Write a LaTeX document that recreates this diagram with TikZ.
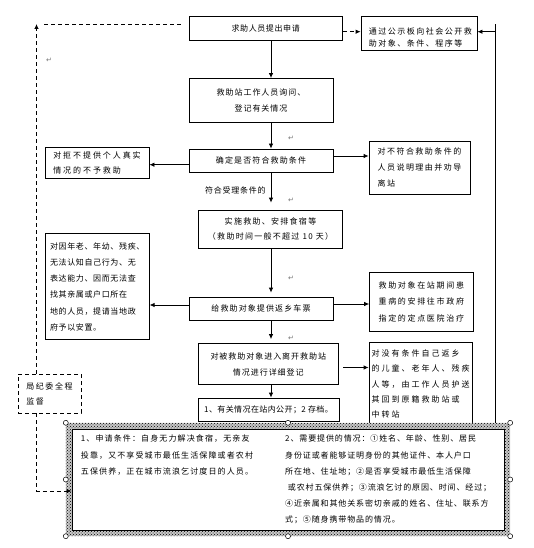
\documentclass[tikz,border=0pt]{standalone}
\usepackage{fontspec}
\setmainfont{Noto Sans CJK SC}
\newfontfamily\markfont{DejaVu Sans}
\usetikzlibrary{arrows.meta,calc,patterns}

\begin{document}
\begin{tikzpicture}[
  x=1pt,y=-1pt,
  font={\fontsize{8}{15.5}\selectfont},
  track/.style 2 args={font={\fontsize{8}{#2}\selectfont\addfontfeatures{LetterSpace=#1}}},
  box/.style={draw=black,line width=0.8pt,inner sep=0pt,align=center},
  side/.style={box,align=left},
  dbox/.style={box,align=left,dash pattern=on 4pt off 3pt},
  ar/.style={-{Latex[length=5pt,width=4.5pt]},line width=0.8pt},
  dar/.style={ar,dash pattern=on 4pt off 3pt},
  dline/.style={line width=0.8pt,dash pattern=on 4pt off 3pt},
  para/.style={font=\markfont\fontsize{7}{7}\selectfont,text=black!55,inner sep=0pt},
  handle/.style={circle,draw=black,fill=white,line width=0.5pt,inner sep=0pt,minimum size=5pt},
]
\useasboundingbox (0,0) rectangle (534,548);
\node[box,track={7.5}{15.5},minimum width=153.5,minimum height=24] (ask) at (265.7,28.3) {求助人员提出申请};
\node[box,minimum width=116,minimum height=34] (pub) at (419,33) {};
\node[track={19}{12.3},align=left,inner sep=0pt,anchor=west] (pubtxt) at (368.6,37.8) {通过公示板向社会公开救\\助对象、条件、程序等};
\node[box,track={12}{15.5},minimum width=144,minimum height=44.3] (inquire) at (261,100.6) {救助站工作人员询问、\\登记有关情况};
\node[box,track={14}{15.5},minimum width=144,minimum height=23] (check) at (261,160.5) {确定是否符合救助条件};
\node[side,track={24}{15},minimum width=104,minimum height=31] (refuse) at (97,162.5) {对拒不提供个人真实\\情况的不予救助};
\node[side,track={18}{16},minimum width=101,minimum height=53] (unfit) at (419.5,167.5) {对不符合救助条件的\\人员说明理由并劝导\\离站};
\node[track={9}{15.5},anchor=west,inner sep=0pt] (ok) at (205,190) {符合受理条件的};
\node[box,track={16}{14.2},minimum width=144,minimum height=38] (aid) at (270.5,229) {实施救助、安排食宿等\\（救助时间一般不超过 10 天）};
\node[side,track={8}{16.2},minimum width=104,minimum height=106] (settle) at (97.2,286.7) {对因年老、年幼、残疾、\\无法认知自己行为、无\\表达能力、因而无法查\\找其亲属或户口所在\\地的人员，提请当地政\\府予以安置。};
\node[box,track={14}{15.5},minimum width=144,minimum height=23] (ticket) at (261,308.5) {给救助对象提供返乡车票};
\node[side,track={21}{16.5},minimum width=103.4,minimum height=58.4] (sick) at (421.3,301.8) {救助对象在站期间患\\重病的安排往市政府\\指定的定点医院治疗};
\node[box,track={12}{16},minimum width=139.4,minimum height=41] (record) at (268.3,364) {对被救助对象进入离开救助站\\情况进行详细登记};
\node[box,track={5}{15.5},minimum width=141,minimum height=23] (archive) at (268.5,409.5) {1、有关情况在站内公开；2 存档。};
\node[side,track={25}{15.3},minimum width=103,minimum height=84] (escort) at (420.5,384) {对没有条件自己返乡\\的儿童、老年人、残疾\\人等，由工作人员护送\\其回到原籍救助站或\\中转站};
\node[dbox,track={20}{15},minimum width=63,minimum height=39] (watch) at (49.5,393.5) {局纪委全程\\监督};
\node[inner sep=0pt,minimum width=444,minimum height=113] (frame) at (288,479.5) {};
\fill[black!22,even odd rule] (frame.north west) rectangle (frame.south east) (72,429) rectangle (504,530);
\fill[pattern=crosshatch dots,even odd rule] (frame.north west) rectangle (frame.south east) (72,429) rectangle (504,530);
\node[box,minimum width=432,minimum height=101] (notes) at (288,479.5) {};
\node[track={14}{16.2},align=left,inner sep=0pt,anchor=north west] (cond) at (80.7,435) {1、申请条件：自身无力解决食宿，无亲友\\投靠，又不享受城市最低生活保障或者农村\\五保供养，正在城市流浪乞讨度日的人员。};
\node[track={11}{16.2},align=left,inner sep=0pt,anchor=north west] (need) at (285,435) {2、需要提供的情况：①姓名、年龄、性别、居民\\身份证或者能够证明身份的其他证件、本人户口\\所在地、住址地；②是否享受城市最低生活保障\\\ 或农村五保供养；③流浪乞讨的原因、时间、经过；\\④近亲属和其他关系密切亲戚的姓名、住址、联系方\\式；⑤随身携带物品的情况。};
\foreach \a [count=\i] in {north west,north,north east,west,east,south west,south,south east}
  \node[handle] (h\i) at (frame.\a) {};
\foreach \x/\y [count=\i] in {49/60,291/138,291/200,291/278,291/338}
  \node[para] (mark\i) at (\x,\y) {↵};
\coordinate (spine) at (271,0);
\draw[ar] (spine |- ask.south) -- (spine |- inquire.north);
\draw[ar] (spine |- inquire.south) -- (spine |- check.north);
\draw[ar,shorten >=7pt] (spine |- check.south) -- (spine |- aid.north);
\draw[ar,shorten >=4pt] (spine |- aid.south) -- (spine |- ticket.north);
\draw[ar,shorten >=4pt] (spine |- ticket.south) -- (spine |- record.north);
\draw[ar] (spine |- record.south) -- (spine |- archive.north);
\coordinate (c1) at ([yshift=-4.2pt]check.west);
\coordinate (c2) at ([yshift=4.5pt]check.east);
\coordinate (c3) at ([yshift=3.5pt]ticket.west);
\coordinate (c4) at ([yshift=4.5pt]ticket.east);
\coordinate (c5) at ([yshift=-3.5pt]record.east);
\draw[ar] (c1) -- (c1 -| refuse.east);
\draw[ar] (c2) -- (c2 -| unfit.west);
\draw[ar] (c3) -- (c3 -| settle.east);
\draw[ar] (c4) -- (c4 -| sick.west);
\draw[ar,shorten <=5pt] (c5) -- (c5 -| escort.west);
\coordinate (row) at (0,31.7);
\draw[dar] (row -| ask.east) -- (row -| pub.west);
\coordinate (rail) at (495,24);
\draw[line width=0.8pt] (rail |- frame.north) -- (rail);
\draw[ar] (rail |- row) -- (row -| pub.east);
\coordinate (corner) at (36.5,24);
\coordinate (gap) at (corner -| ask.west);
\draw[dar] (corner |- watch.north) -- (corner);
\draw[dline] ([xshift=7.5pt]corner) -- ([xshift=-8pt]gap);
\coordinate (inlet) at ([yshift=-11.5pt]notes.west);
\draw[dar] (corner |- watch.south) |- (inlet);
\end{tikzpicture}
\end{document}
